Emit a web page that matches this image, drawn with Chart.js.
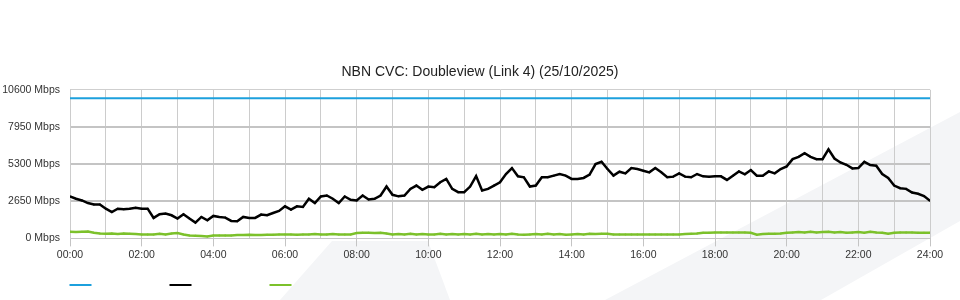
<!DOCTYPE html>
<html>
<head>
<meta charset="utf-8">
<script src="https://cdn.jsdelivr.net/npm/chart.js@4/dist/chart.umd.min.js"></script>
<style>
  html, body { margin: 0; padding: 0; background: #ffffff; }
  #wrap { width: 960px; height: 300px; }
</style>
</head>
<body>
<div id="wrap"><canvas id="c" width="960" height="300"></canvas></div>
<script>
// ---- data ----
const chartTitle = 'NBN CVC: Doubleview (Link 4) (25/10/2025)';
const xTickLabels = ['00:00','02:00','04:00','06:00','08:00','10:00','12:00','14:00','16:00','18:00','20:00','22:00','24:00'];
const yTickValues = [0, 2650, 5300, 7950, 10600];
const capacityMbps = 10000;
// sample times in hours, every 10 minutes from 00:00 to 24:00
const times = Array.from({ length: 145 }, (_, i) => i / 6);

const trafficMbps = [
  2991, 2827, 2709, 2520, 2426, 2426, 2120, 1885, 2120, 2073, 2120, 2191,
  2120, 2120, 1460, 1720, 1767, 1649, 1413, 1720, 1413, 1130, 1531, 1295,
  1602, 1531, 1484, 1248, 1225, 1531, 1460, 1460, 1696, 1649, 1814, 1955,
  2285, 2049, 2285, 2238, 2827, 2520, 2991, 3060, 2827, 2520, 2991, 2756,
  2709, 3062, 2780, 2827, 3062, 3699, 3110, 3000, 3062, 3533, 3769, 3463,
  3699, 3651, 4005, 4240, 3533, 3298, 3298, 3699, 4450, 3416, 3533, 3769,
  4005, 4593, 5017, 4428, 4358, 3699, 3769, 4358, 4358, 4476, 4593, 4476,
  4240, 4240, 4311, 4547, 5300, 5465, 4947, 4476, 4758, 4641, 5017, 4947,
  4829, 4711, 5017, 4711, 4358, 4405, 4641, 4405, 4358, 4593, 4428, 4405,
  4428, 4428, 4170, 4476, 4782, 4570, 4876, 4476, 4476, 4782, 4641, 4947,
  5135, 5653, 5818, 6077, 5818, 5653, 5653, 6350, 5700, 5417, 5252, 4994,
  5017, 5465, 5229, 5182, 4593, 4311, 3769, 3581, 3533, 3274, 3180, 3015,
  2685
];

const greenMbps = [
  471, 448, 471, 495, 401, 353, 330, 353, 306, 353, 330, 306,
  283, 283, 283, 330, 283, 353, 377, 283, 212, 188, 165, 141,
  212, 212, 212, 212, 236, 236, 259, 236, 236, 259, 259, 283,
  283, 283, 259, 283, 283, 306, 283, 283, 306, 283, 283, 283,
  377, 400, 400, 377, 400, 353,
  283, 306, 283, 330, 283, 306, 283, 283, 330, 283, 306, 283, 306, 283, 330, 283, 306, 283,
  306, 283, 330, 283, 259, 283, 306, 283, 330, 283, 306, 259, 283, 306, 283, 330, 306, 330,
  330, 283, 283, 283, 283, 283, 283, 283, 283, 283, 283, 283, 283, 306, 330, 353, 400, 400,
  424, 424, 424, 424, 424, 424, 400, 259, 306, 330, 330, 353,
  400, 424, 448, 424, 471, 424, 448, 471, 424, 448, 400, 424, 448, 400, 471, 424, 400, 330,
  400, 424, 424, 424, 400, 400, 400
];

// ---- styling / plugins ----
Chart.defaults.font.family = "'Liberation Sans', Arial, Helvetica, sans-serif";

const watermark = {
  id: 'watermark',
  beforeDraw(chart) {
    const ctx = chart.ctx;
    ctx.save();
    ctx.fillStyle = '#f4f5f7';
    ctx.beginPath();
    ctx.moveTo(605, 300); ctx.lineTo(960, 112); ctx.lineTo(960, 221); ctx.lineTo(821, 300);
    ctx.closePath(); ctx.fill();
    ctx.beginPath();
    ctx.moveTo(280, 300); ctx.lineTo(332, 241); ctx.lineTo(428, 241); ctx.lineTo(450, 300);
    ctx.closePath(); ctx.fill();
    ctx.restore();
  }
};

const lineLegend = {
  id: 'lineLegend',
  afterDraw(chart) {
    const ctx = chart.ctx;
    const left = chart.chartArea.left;
    ctx.save();
    chart.data.datasets.forEach((ds, i) => {
      ctx.fillStyle = ds.borderColor;
      ctx.fillRect(left - 0.5 + i * 100, 284, 22, 2);
    });
    ctx.restore();
  }
};

const hours = Array.from({ length: 25 }, (_, i) => i);

new Chart(document.getElementById('c'), {
  type: 'line',
  data: {
    labels: times,
    datasets: [
      {
        label: '',
        data: [{ x: 0, y: capacityMbps }, { x: 24, y: capacityMbps }],
        borderColor: '#1ca0dd',
        backgroundColor: '#1ca0dd',
        borderWidth: 2,
        pointRadius: 0
      },
      {
        label: '',
        data: trafficMbps,
        borderColor: '#000000',
        backgroundColor: '#000000',
        borderWidth: 2.5,
        pointRadius: 1,
        pointBorderWidth: 0,
        tension: 0
      },
      {
        label: '',
        data: greenMbps,
        borderColor: '#7cc12b',
        backgroundColor: '#7cc12b',
        borderWidth: 2.5,
        pointRadius: 1,
        pointBorderWidth: 0,
        tension: 0
      }
    ]
  },
  options: {
    responsive: false,
    animation: false,
    devicePixelRatio: 1,
    layout: { padding: { left: 0, right: 0, top: 0, bottom: 37 } },
    plugins: {
      legend: { display: false },
      tooltip: { enabled: false },
      title: {
        display: true,
        text: chartTitle,
        color: '#222222',
        font: { size: 14, weight: 'normal' },
        padding: { top: 64, bottom: 9 }
      }
    },
    scales: {
      x: {
        type: 'linear',
        min: 0,
        max: 24,
        afterBuildTicks: s => { s.ticks = hours.map(v => ({ value: v })); },
        ticks: {
          autoSkip: false,
          maxRotation: 0,
          padding: 2,
          color: '#333333',
          font: { size: 10.5 },
          callback: v => (v % 2 === 0 ? xTickLabels[v / 2] : '')
        },
        grid: {
          color: '#cccccc',
          lineWidth: 1,
          tickLength: 8,
          tickColor: c => (c.tick && c.tick.value % 2 === 0 ? '#c4c4c4' : 'rgba(0,0,0,0)')
        },
        border: { color: '#c4c4c4', width: 1 }
      },
      y: {
        min: 0,
        max: 10600,
        afterBuildTicks: s => { s.ticks = yTickValues.map(v => ({ value: v })); },
        afterFit: s => { s.width = 70; },
        ticks: {
          padding: 10,
          color: '#333333',
          font: { size: 10.5 },
          callback: v => v + ' Mbps'
        },
        grid: {
          drawTicks: false,
          color: c => (c.tick && (c.tick.value === 0 || c.tick.value === 10600) ? '#cfcfcf' : '#c4c4c4'),
          lineWidth: c => (c.tick && (c.tick.value === 0 || c.tick.value === 10600) ? 1 : 2)
        },
        border: { color: '#cccccc', width: 1 }
      },
      yRight: {
        position: 'right',
        display: true,
        grid: { display: false, drawTicks: false },
        ticks: { display: false },
        border: { display: false },
        afterFit: s => { s.width = 30; }
      }
    }
  },
  plugins: [watermark, lineLegend]
});
</script>
</body>
</html>
